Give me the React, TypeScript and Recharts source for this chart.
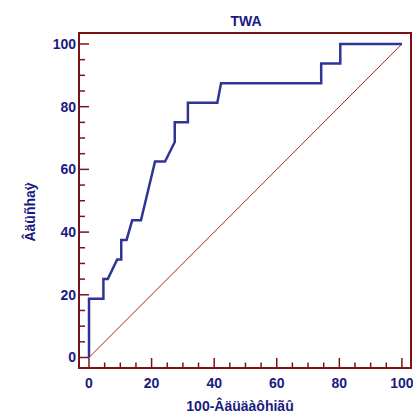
import { LineChart, Line, XAxis, YAxis, ReferenceArea } from "recharts"

// ROC curve
const rocX = [0, 0, 4.6, 4.6, 6, 9, 10.3, 10.3, 12, 13.8, 16.6, 21.1, 24.3, 27.4, 27.4, 31.6, 31.6, 41, 42.2, 74.2, 74.2, 80.3, 80.3, 100]
const rocY = [0, 18.75, 18.75, 25, 25, 31.25, 31.25, 37.5, 37.5, 43.75, 43.75, 62.5, 62.5, 68.75, 75, 75, 81.25, 81.25, 87.5, 87.5, 93.75, 93.75, 100, 100]
const diagX = [0, 100]
const diagY = [0, 100]
const tickValues = [0, 5, 10, 15, 20, 25, 30, 35, 40, 45, 50, 55, 60, 65, 70, 75, 80, 85, 90, 95, 100]

const title = "TWA"
const xTitle = "100-Âäüäàôhiãû"
const yTitle = "Âäüñhaÿ"

const navy = "#1a1a80"
const frame = "#7a1414"
const font = "'Liberation Sans', Arial, sans-serif"

const rocData = rocX.map((x, i) => ({ x, y: rocY[i] }))
const diagData = diagX.map((x, i) => ({ x, y: diagY[i] }))

// plot box edges (page px)
const plotBottom = 368
const plotLeft = 79

const renderXTick = (props: any) => {
  const { x, payload } = props
  const major = payload.value % 20 === 0
  return (
    <g key={`xt-${payload.value}`}>
      <line x1={x} x2={x} y1={plotBottom} y2={plotBottom - (major ? 10 : 5.5)} stroke={frame} strokeWidth={1.5} />
      {major && (
        <text x={x} y={plotBottom + 20} textAnchor="middle" fill={navy} fontSize={14} fontWeight="bold" fontFamily={font}>
          {payload.value}
        </text>
      )}
    </g>
  )
}

const renderYTick = (props: any) => {
  const { y, payload } = props
  const major = payload.value % 20 === 0
  return (
    <g key={`yt-${payload.value}`}>
      <line x1={plotLeft} x2={plotLeft + (major ? 10 : 6)} y1={y} y2={y} stroke={frame} strokeWidth={1.5} />
      {major && (
        <text x={plotLeft - 3} y={y + 5} textAnchor="end" fill={navy} fontSize={14} fontWeight="bold" fontFamily={font}>
          {payload.value}
        </text>
      )}
    </g>
  )
}

export default function App() {
  return (
    <div style={{ position: "absolute", left: 0, top: 0, background: "#fff" }}>
      <LineChart width={413} height={414} margin={{ top: 33, right: 2, bottom: 0, left: 0 }}>
        <XAxis
          type="number"
          dataKey="x"
          domain={[-3.2, 102.9]}
          allowDataOverflow
          ticks={tickValues}
          interval={0}
          tick={renderXTick}
          tickLine={false}
          axisLine={false}
          height={46}
        />
        <YAxis
          type="number"
          dataKey="y"
          domain={[-3.35, 103.5]}
          allowDataOverflow
          ticks={tickValues}
          interval={0}
          tick={renderYTick}
          tickLine={false}
          axisLine={false}
          width={79}
        />
        <ReferenceArea x1={-3.2} x2={102.9} y1={-3.35} y2={103.5} fill="none" stroke={frame} strokeWidth={2} ifOverflow="visible" />
        <Line data={diagData} dataKey="y" stroke="#b82020" strokeWidth={1} dot={false} isAnimationActive={false} />
        <Line data={rocData} dataKey="y" stroke="#2f3596" strokeWidth={2.5} dot={false} isAnimationActive={false} />
      </LineChart>
      <svg width={413} height={414} style={{ position: "absolute", left: 0, top: 0, pointerEvents: "none" }}>
        <text x={246} y={26} textAnchor="middle" fill={navy} fontSize={14} fontWeight="bold" fontFamily={font}>
          {title}
        </text>
        <text x={240} y={411} textAnchor="middle" fill={navy} fontSize={14} fontWeight="bold" fontFamily={font}>
          {xTitle}
        </text>
        <text x={0} y={0} transform="translate(35,212) rotate(-90)" textAnchor="middle" fill={navy} fontSize={14} fontWeight="bold" fontFamily={font}>
          {yTitle}
        </text>
      </svg>
    </div>
  )
}
